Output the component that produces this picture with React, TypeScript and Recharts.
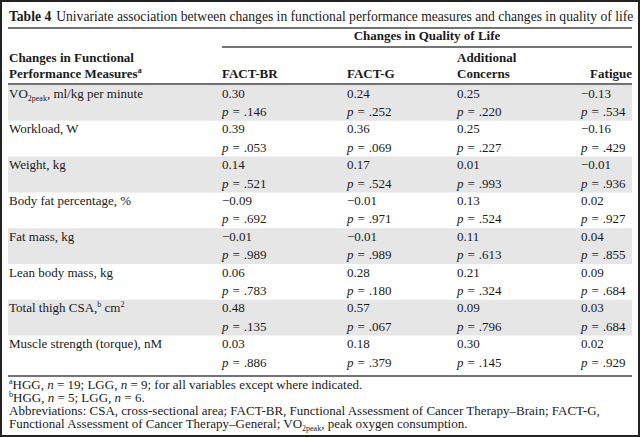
import { Surface, Layer, Rectangle } from 'recharts';

const measures = [
  'VO2peak, ml/kg per minute',
  'Workload, W',
  'Weight, kg',
  'Body fat percentage, %',
  'Fat mass, kg',
  'Lean body mass, kg',
  'Total thigh CSA, cm2',
  'Muscle strength (torque), nM',
];

const columns = ['FACT-BR', 'FACT-G', 'Additional Concerns', 'Fatigue'];

const factBrR = [0.3, 0.39, 0.14, -0.09, -0.01, 0.06, 0.48, 0.03];
const factBrP = ['.146', '.053', '.521', '.692', '.989', '.783', '.135', '.886'];
const factGR = [0.24, 0.36, 0.17, -0.01, -0.01, 0.28, 0.57, 0.18];
const factGP = ['.252', '.069', '.524', '.971', '.989', '.180', '.067', '.379'];
const addR = [0.25, 0.25, 0.01, 0.13, 0.11, 0.21, 0.09, 0.3];
const addP = ['.220', '.227', '.993', '.524', '.613', '.324', '.796', '.145'];
const fatR = [-0.13, -0.16, -0.01, 0.02, 0.04, 0.09, 0.03, 0.02];
const fatP = ['.534', '.429', '.936', '.927', '.855', '.684', '.684', '.929'];

const rValues = [factBrR, factGR, addR, fatR];
const pValues = [factBrP, factGP, addP, fatP];

const W = 640;
const H = 437;
const LEFT = 8;
const RIGHT = 632;
const ROW_TOP = 85;
const ROW_H = 35.8;
const colX = [222, 347, 457, 581];
const FONT = 'Liberation Serif';
const INK = '#1a1a1a';
const FS = 13;

const fmt = (v: number) => (v < 0 ? '\u2212' : '') + Math.abs(v).toFixed(2);

function MeasureLabel({ i, y }: { i: number; y: number }) {
  const name = measures[i];
  if (name.startsWith('VO2peak')) {
    return (
      <text x={9} y={y} fontSize={FS} fill={INK}>
        VO<tspan fontSize={8} dy={3}>2peak</tspan>
        <tspan dy={-3}>, ml/kg per minute</tspan>
      </text>
    );
  }
  if (name.startsWith('Total thigh')) {
    return (
      <text x={9} y={y} fontSize={FS} fill={INK}>
        Total thigh CSA,<tspan fontSize={8} dy={-5}>b</tspan>
        <tspan dy={5}> cm</tspan>
        <tspan fontSize={8} dy={-5}>2</tspan>
      </text>
    );
  }
  return (
    <text x={9} y={y} fontSize={FS} fill={INK}>
      {name}
    </text>
  );
}

export default function App() {
  return (
    <div style={{ width: W, height: H, background: '#fff' }}>
      <style>{'body{margin:0}'}</style>
      <Surface width={W} height={H}>
        <g fontFamily={FONT}>
          <rect x={1} y={1} width={W - 2} height={H - 2} fill="#fff" stroke="#222" strokeWidth={2} />

          {/* title */}
          <text x={9} y={21} fontSize={13.6} fill={INK}>
            <tspan fontWeight="bold">Table 4</tspan>
            <tspan dx={5}>Univariate association between changes in functional performance measures and changes in quality of life</tspan>
          </text>
          <line x1={LEFT} x2={RIGHT} y1={28} y2={28} stroke="#444" strokeWidth={1.5} />

          {/* header */}
          <text x={(colX[0] + RIGHT) / 2} y={40} fontSize={FS} fontWeight="bold" textAnchor="middle" fill={INK}>
            Changes in Quality of Life
          </text>
          <line x1={colX[0]} x2={RIGHT} y1={47} y2={47} stroke="#444" strokeWidth={1.3} />
          <text x={9} y={62} fontSize={FS} fontWeight="bold" fill={INK}>Changes in Functional</text>
          <text x={9} y={78} fontSize={FS} fontWeight="bold" fill={INK}>
            Performance Measures<tspan fontSize={8} dy={-5}>a</tspan>
          </text>
          {columns.map((c, j) => {
            const words = c === 'Additional Concerns' ? ['Additional', 'Concerns'] : [c];
            const last = j === columns.length - 1;
            return words.map((w, k) => (
              <text
                key={c + k}
                x={last ? RIGHT : colX[j]}
                y={78 - (words.length - 1 - k) * 16}
                fontSize={FS}
                fontWeight="bold"
                textAnchor={last ? 'end' : 'start'}
                fill={INK}
              >
                {w}
              </text>
            ));
          })}
          <line x1={LEFT} x2={RIGHT} y1={84} y2={84} stroke="#444" strokeWidth={1.3} />

          {/* rows */}
          {measures.map((m, i) => {
            const top = ROW_TOP + i * ROW_H;
            return (
              <Layer key={m}>
                {i % 2 === 0 && (
                  <Rectangle x={LEFT} y={top} width={RIGHT - LEFT} height={ROW_H} fill="#e6e6e6" />
                )}
                <MeasureLabel i={i} y={top + 12.5} />
                {rValues.map((col, j) => (
                  <g key={j}>
                    <text x={colX[j]} y={top + 12.5} fontSize={FS} fill={INK}>
                      {fmt(col[i])}
                    </text>
                    <text x={colX[j]} y={top + 31} fontSize={FS} fill={INK}>
                      <tspan fontStyle="italic">p</tspan>
                      <tspan dx={4}>=</tspan>
                      <tspan dx={4}>{pValues[j][i]}</tspan>
                    </text>
                  </g>
                ))}
              </Layer>
            );
          })}
          <line x1={LEFT} x2={RIGHT} y1={376} y2={376} stroke="#444" strokeWidth={1.3} />

          {/* footnotes */}
          <text x={9} y={389} fontSize={FS} fill={INK}>
            <tspan fontSize={8} dy={-5}>a</tspan>
            <tspan dy={5}>HGG, </tspan>
            <tspan fontStyle="italic">n</tspan> = 19; LGG, <tspan fontStyle="italic">n</tspan> = 9; for all variables except where indicated.
          </text>
          <text x={9} y={402} fontSize={FS} fill={INK}>
            <tspan fontSize={8} dy={-5}>b</tspan>
            <tspan dy={5}>HGG, </tspan>
            <tspan fontStyle="italic">n</tspan> = 5; LGG, <tspan fontStyle="italic">n</tspan> = 6.
          </text>
          <text x={9} y={415} fontSize={FS} fill={INK}>
            Abbreviations: CSA, cross-sectional area; FACT-BR, Functional Assessment of Cancer Therapy–Brain; FACT-G,
          </text>
          <text x={9} y={428} fontSize={FS} fill={INK}>
            Functional Assessment of Cancer Therapy–General; VO<tspan fontSize={8} dy={3}>2peak</tspan>
            <tspan dy={-3}>, peak oxygen consumption.</tspan>
          </text>
        </g>
      </Surface>
    </div>
  );
}
